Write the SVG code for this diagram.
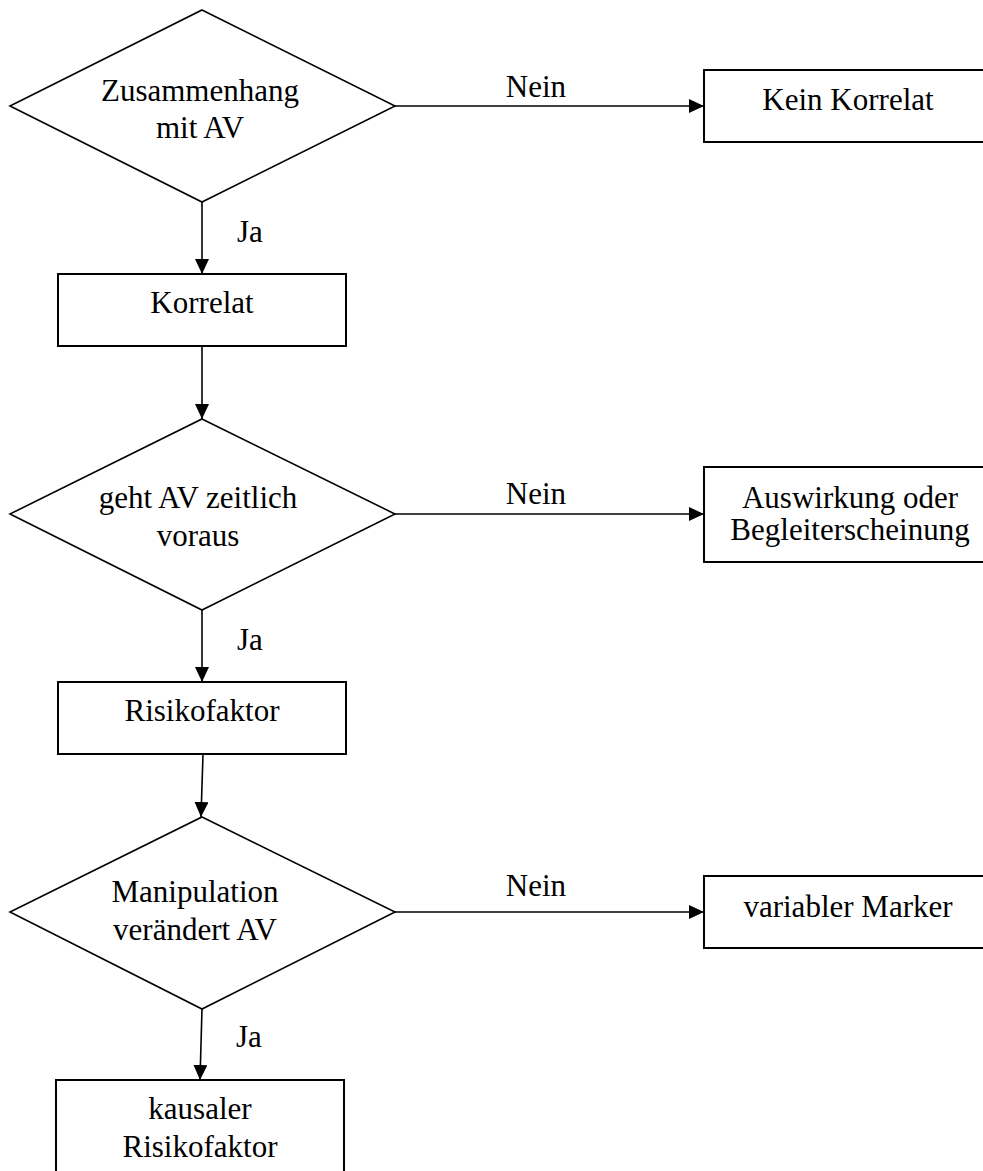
<svg xmlns="http://www.w3.org/2000/svg" width="983" height="1171" viewBox="0 0 983 1171">
<style>
  .shape { fill: #ffffff; stroke: #000000; stroke-width: 1.6; }
  .box { fill: #ffffff; stroke: #000000; stroke-width: 2; }
  .edge { fill: none; stroke: #000000; stroke-width: 1.6; marker-end: url(#arrow); }
  text { font-family: "Liberation Serif", "Times New Roman", serif; font-size: 31px; fill: #000000; }
  .c { text-anchor: middle; }
</style>
<defs>
  <marker id="arrow" markerUnits="userSpaceOnUse" markerWidth="16" markerHeight="14" refX="15" refY="7" orient="auto">
    <path d="M0,0 L15,7 L0,14 Z" fill="#000000"/>
  </marker>
</defs>
<rect width="983" height="1171" fill="#ffffff"/>

<g id="connectors">
  <line class="edge" x1="395" y1="106" x2="704" y2="106"/>
  <line class="edge" x1="202" y1="202" x2="202" y2="274"/>
  <line class="edge" x1="202" y1="346" x2="202" y2="419"/>
  <line class="edge" x1="395" y1="514" x2="704" y2="514"/>
  <line class="edge" x1="202" y1="610" x2="202" y2="682"/>
  <line class="edge" x1="203" y1="754" x2="201" y2="817"/>
  <line class="edge" x1="395" y1="912" x2="704" y2="912"/>
  <line class="edge" x1="202" y1="1009" x2="200" y2="1080"/>
  <text x="536" y="97" class="c">Nein</text>
  <text x="237" y="242">Ja</text>
  <text x="536" y="504" class="c">Nein</text>
  <text x="237" y="650">Ja</text>
  <text x="536" y="896" class="c">Nein</text>
  <text x="236" y="1047">Ja</text>
</g>

<g id="d1">
  <polygon class="shape" points="202,10 395,106 202,202 10,106"/>
  <text x="200" y="101" class="c">Zusammenhang</text>
  <text x="200" y="138" class="c">mit AV</text>
</g>
<g id="kein-korrelat">
  <rect class="box" x="704" y="70" width="300" height="72"/>
  <text x="848" y="110" class="c">Kein Korrelat</text>
</g>
<g id="korrelat">
  <rect class="box" x="58" y="274" width="288" height="72"/>
  <text x="202" y="313" class="c">Korrelat</text>
</g>
<g id="d2">
  <polygon class="shape" points="202,419 395,514 202,610 10,514"/>
  <text x="198" y="508" class="c">geht AV zeitlich</text>
  <text x="198" y="546" class="c">voraus</text>
</g>
<g id="auswirkung">
  <rect class="box" x="704" y="467" width="300" height="95"/>
  <text x="850" y="508" class="c">Auswirkung oder</text>
  <text x="850" y="540" class="c">Begleiterscheinung</text>
</g>
<g id="risikofaktor">
  <rect class="box" x="58" y="682" width="288" height="72"/>
  <text x="202" y="721" class="c">Risikofaktor</text>
</g>
<g id="d3">
  <polygon class="shape" points="202,817 395,912 202,1009 10,912"/>
  <text x="195" y="902" class="c">Manipulation</text>
  <text x="195" y="940" class="c">verändert AV</text>
</g>
<g id="variabler-marker">
  <rect class="box" x="704" y="876" width="300" height="72"/>
  <text x="848" y="917" class="c">variabler Marker</text>
</g>
<g id="kausaler-risikofaktor">
  <rect class="box" x="56" y="1080" width="288" height="110"/>
  <text x="200" y="1119" class="c">kausaler</text>
  <text x="200" y="1157" class="c">Risikofaktor</text>
</g>
</svg>
